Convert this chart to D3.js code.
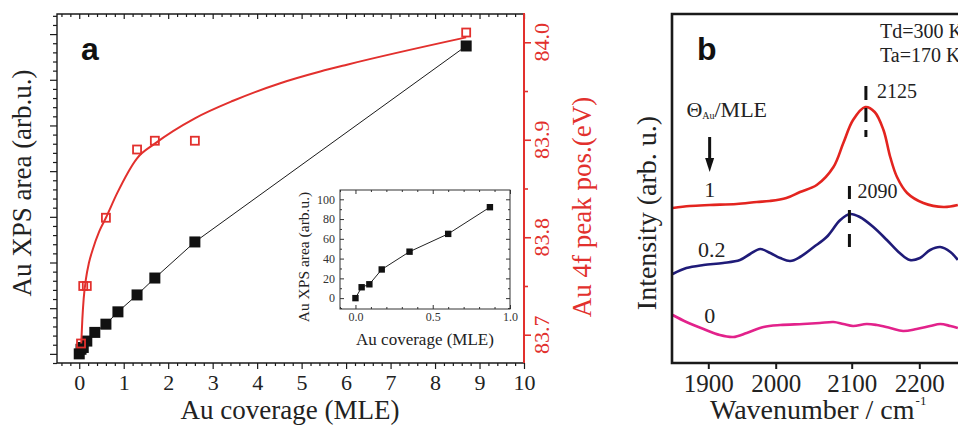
<!DOCTYPE html>
<html>
<head>
<meta charset="utf-8">
<script src="https://cdn.jsdelivr.net/npm/d3@7"></script>
<style>
    body { margin: 0; background: #fff; }
    svg { display: block; font-family: "Liberation Serif", "Times New Roman", serif; }
</style>
</head>
<body>
<svg id="chart" width="958" height="425"></svg>
<script>
    // panel a: Au XPS area (black) and Au 4f peak position (red) vs coverage
    const coverage = [0, 0.04, 0.09, 0.17, 0.35, 0.6, 0.87, 1.3, 1.7, 2.6, 8.7];
    const xpsArea = [0, 10, 14, 28, 47, 65, 92, 129, 166, 245, 674];
    const peakCoverage = [0.04, 0.09, 0.17, 0.6, 1.3, 1.7, 2.6, 8.7];
    const peakPos = [83.691, 83.750, 83.750, 83.820, 83.890, 83.899, 83.899, 84.010];
    // fitted curve
    const fitCoverage = [0.045, 0.07, 0.1, 0.15, 0.22, 0.3, 0.45, 0.6, 0.85, 1.3, 1.7, 2.6, 3.46, 4.52, 5.42, 6.02, 8.7];
    const fitPos = [83.691, 83.716, 83.737, 83.757, 83.774, 83.787, 83.806, 83.820, 83.845, 83.881, 83.896, 83.922, 83.940, 83.958, 83.970, 83.977, 84.005];

    // inset
    const insetCoverage = [0, 0.04, 0.09, 0.17, 0.35, 0.6, 0.87];
    const insetArea = [0, 11, 14, 29, 47, 65, 92];

    const coverageTicks = [0, 1, 2, 3, 4, 5, 6, 7, 8, 9, 10];
    const areaTicks = [0, 100, 200, 300, 400, 500, 600, 700];
    const peakTicks = [83.7, 83.8, 83.9, 84.0];
    const insetCoverageTicks = [0, 0.5, 1.0];
    const insetAreaTicks = [0, 20, 40, 60, 80, 100];

    // panel b: IR spectra
    const wavenumberTicks = [1900, 2000, 2100, 2200];
    const redWn = [1848, 1873, 1902, 1942, 1972, 1991, 2014, 2032, 2054, 2076, 2089, 2102, 2120, 2134, 2147, 2157, 2167, 2182, 2206, 2236, 2257];
    const redInt = [155, 157, 158, 159, 161, 162, 165, 171, 178, 196, 220, 243, 256, 251, 233, 206, 186, 170, 160, 156, 158];
    const blueWn = [1848, 1868, 1893, 1922, 1947, 1962, 1977, 1992, 2006, 2019, 2032, 2050, 2067, 2085, 2098, 2112, 2132, 2152, 2171, 2186, 2201, 2216, 2231, 2246, 2257];
    const blueInt = [89, 95, 98, 100, 103, 109, 114, 110, 105, 102, 106, 116, 126, 143, 149, 146, 136, 123, 110, 103, 105, 113, 116, 111, 103];
    const pinkWn = [1848, 1868, 1893, 1917, 1937, 1957, 1982, 2006, 2036, 2058, 2076, 2089, 2102, 2122, 2137, 2157, 2176, 2196, 2216, 2231, 2246, 2257];
    const pinkInt = [48, 41, 34, 28, 26, 30, 36, 38, 39, 40, 41, 39, 37, 39, 38, 35, 32, 34, 37, 39, 37, 35];
    const coverageLabels = ["1", "0.2", "0"];
    const peakLabels = ["2125", "2090"];
    const peakMarkWn = [2121, 2097];

    const red = "#e2302d";
    const ink = "#1a1a1a";
    const svg = d3.select("#chart");

    const minorOf = (lo, hi, step, major) =>
        d3.range(lo, hi + step / 2, step)
        .filter(v => major.every(m => Math.abs(v - m) > step / 10));

    function tickAxis (parent, axisFn, scale, values, size, transform, color = ink, width = 1.2) {
        parent.append("g")
            .attr("transform", transform)
            .call(axisFn(scale).tickValues(values).tickSize(size).tickFormat(""))
            .call(g => g.select(".domain").remove())
            .call(g => g.selectAll("line").attr("stroke", color).attr("stroke-width", width));
    }

    // ---------- panel a ----------
    const A = {left: 57, right: 524, top: 14, bottom: 363};
    const x = d3.scaleLinear().domain([-0.5, 10]).range([A.left, A.right]);
    const yArea = d3.scaleLinear().domain([-20, 744]).range([A.bottom, A.top]);
    const yPeak = d3.scaleLinear().domain([83.671, 84.029]).range([A.bottom, A.top]);

    const gA = svg.append("g");

    // bottom axis with labels
    gA.append("g")
        .attr("transform", `translate(0,${A.bottom})`)
        .call(d3.axisBottom(x).tickValues(coverageTicks).tickSize(6).tickPadding(5))
        .call(g => g.select(".domain").remove())
        .call(g => g.selectAll("line").attr("stroke", ink).attr("stroke-width", 1.2))
        .call(g => g.selectAll("text")
            .attr("font-family", "Liberation Serif")
            .attr("font-size", 22)
            .attr("fill", "#222"));
    const coverageMinor = minorOf(-0.4, 10, 0.2, coverageTicks);
    tickAxis(gA, d3.axisBottom, x, coverageMinor, 3, `translate(0,${A.bottom})`);
    // top axis, inward ticks
    tickAxis(gA, d3.axisBottom, x, coverageTicks, 5, `translate(0,${A.top})`);
    tickAxis(gA, d3.axisBottom, x, coverageMinor, 3, `translate(0,${A.top})`);
    // left axis, no labels
    tickAxis(gA, d3.axisLeft, yArea, areaTicks, 7, `translate(${A.left},0)`);
    tickAxis(gA, d3.axisLeft, yArea, minorOf(-20, 740, 20, areaTicks), 4, `translate(${A.left},0)`);
    // right axis, red
    tickAxis(gA, d3.axisRight, yPeak, peakTicks, 7, `translate(${A.right},0)`, red, 1.6);
    tickAxis(gA, d3.axisRight, yPeak, [83.75, 83.85, 83.95], 4, `translate(${A.right},0)`, red, 1.6);

    gA.selectAll(".peak-tick")
        .data(peakTicks)
        .join("text")
        .attr("class", "peak-tick")
        .attr("transform", d => `translate(549,${yPeak(d)}) rotate(-90)`)
        .attr("text-anchor", "middle")
        .attr("font-size", 22)
        .attr("fill", red)
        .text(d3.format(".1f"));

    // frame
    gA.append("path")
        .attr("d", `M${A.right},${A.top}H${A.left}V${A.bottom}H${A.right}`)
        .attr("fill", "none")
        .attr("stroke", ink)
        .attr("stroke-width", 1.4);
    gA.append("line")
        .attr("x1", A.right).attr("x2", A.right)
        .attr("y1", A.top - 1).attr("y2", A.bottom)
        .attr("stroke", red)
        .attr("stroke-width", 2);

    // black series
    const areaPts = d3.zip(coverage, xpsArea);
    gA.append("path")
        .attr("d", d3.line().x(d => x(d[0])).y(d => yArea(d[1]))(areaPts))
        .attr("fill", "none")
        .attr("stroke", ink)
        .attr("stroke-width", 1);
    gA.selectAll(".area-pt")
        .data(areaPts)
        .join("rect")
        .attr("class", "area-pt")
        .attr("x", d => x(d[0]) - 5.5)
        .attr("y", d => yArea(d[1]) - 5.5)
        .attr("width", 11)
        .attr("height", 11)
        .attr("fill", "#111");

    // red fit and points
    gA.append("path")
        .attr("d", d3.line()
            .x(d => x(d[0]))
            .y(d => yPeak(d[1]))
            .curve(d3.curveMonotoneX)(d3.zip(fitCoverage, fitPos)))
        .attr("fill", "none")
        .attr("stroke", red)
        .attr("stroke-width", 2);
    gA.selectAll(".peak-pt")
        .data(d3.zip(peakCoverage, peakPos))
        .join("rect")
        .attr("class", "peak-pt")
        .attr("x", d => x(d[0]) - 4)
        .attr("y", d => yPeak(d[1]) - 4)
        .attr("width", 8)
        .attr("height", 8)
        .attr("fill", "none")
        .attr("stroke", red)
        .attr("stroke-width", 1.8);

    // titles
    gA.append("text")
        .attr("x", 290)
        .attr("y", 419)
        .attr("text-anchor", "middle")
        .attr("font-size", 27)
        .attr("fill", "#222")
        .text("Au coverage (MLE)");
    gA.append("text")
        .attr("transform", "translate(31,183) rotate(-90)")
        .attr("text-anchor", "middle")
        .attr("font-size", 27)
        .attr("fill", "#222")
        .text("Au XPS area (arb.u.)");
    gA.append("text")
        .attr("transform", "translate(591,207) rotate(-90)")
        .attr("text-anchor", "middle")
        .attr("font-size", 27)
        .attr("fill", red)
        .text("Au 4f peak pos.(eV)");
    gA.append("text")
        .attr("x", 81)
        .attr("y", 60)
        .attr("font-family", "Liberation Sans, Arial, sans-serif")
        .attr("font-weight", "bold")
        .attr("font-size", 32)
        .attr("fill", "#111")
        .text("a");

    // ---------- inset ----------
    const I = {left: 340, right: 510, top: 190, bottom: 309};
    const xi = d3.scaleLinear().domain([-0.1, 1.0]).range([I.left, I.right]);
    const yi = d3.scaleLinear().domain([-11, 109.4]).range([I.bottom, I.top]);
    const gI = svg.append("g");

    gI.append("rect")
        .attr("x", I.left).attr("y", I.top)
        .attr("width", I.right - I.left).attr("height", I.bottom - I.top)
        .attr("fill", "#fff")
        .attr("stroke", "#333")
        .attr("stroke-width", 1);

    gI.append("g")
        .attr("transform", `translate(0,${I.bottom})`)
        .call(d3.axisBottom(xi).tickValues(insetCoverageTicks).tickSize(-4).tickPadding(3).tickFormat(d3.format(".1f")))
        .call(g => g.select(".domain").remove())
        .call(g => g.selectAll("line").attr("stroke", "#333"))
        .call(g => g.selectAll("text").attr("font-family", "Liberation Serif").attr("font-size", 12).attr("fill", "#333"));
    gI.append("g")
        .attr("transform", `translate(${I.left},0)`)
        .call(d3.axisLeft(yi).tickValues(insetAreaTicks).tickSize(-4).tickPadding(5))
        .call(g => g.select(".domain").remove())
        .call(g => g.selectAll("line").attr("stroke", "#333"))
        .call(g => g.selectAll("text").attr("font-family", "Liberation Serif").attr("font-size", 12).attr("fill", "#333"));
    const insetXMinor = minorOf(-0.1, 1.0, 0.1, insetCoverageTicks);
    const insetYMinor = minorOf(-10, 100, 10, insetAreaTicks);
    tickAxis(gI, d3.axisBottom, xi, insetXMinor, -2, `translate(0,${I.bottom})`, "#333", 1);
    tickAxis(gI, d3.axisTop, xi, insetCoverageTicks, -4, `translate(0,${I.top})`, "#333", 1);
    tickAxis(gI, d3.axisTop, xi, insetXMinor, -2, `translate(0,${I.top})`, "#333", 1);
    tickAxis(gI, d3.axisLeft, yi, insetYMinor, -2, `translate(${I.left},0)`, "#333", 1);
    tickAxis(gI, d3.axisRight, yi, insetAreaTicks, -4, `translate(${I.right},0)`, "#333", 1);
    tickAxis(gI, d3.axisRight, yi, insetYMinor, -2, `translate(${I.right},0)`, "#333", 1);

    const insetPts = d3.zip(insetCoverage, insetArea);
    gI.append("path")
        .attr("d", d3.line().x(d => xi(d[0])).y(d => yi(d[1]))(insetPts))
        .attr("fill", "none")
        .attr("stroke", "#222")
        .attr("stroke-width", 1);
    gI.selectAll(".inset-pt")
        .data(insetPts)
        .join("rect")
        .attr("class", "inset-pt")
        .attr("x", d => xi(d[0]) - 3.2)
        .attr("y", d => yi(d[1]) - 3.2)
        .attr("width", 6.4)
        .attr("height", 6.4)
        .attr("fill", "#111");

    gI.append("text")
        .attr("x", 425)
        .attr("y", 345)
        .attr("text-anchor", "middle")
        .attr("font-size", 17)
        .attr("fill", "#222")
        .text("Au coverage (MLE)");
    gI.append("text")
        .attr("transform", "translate(309,257) rotate(-90)")
        .attr("text-anchor", "middle")
        .attr("font-size", 15.5)
        .attr("fill", "#222")
        .text("Au XPS area (arb.u.)");

    // ---------- panel b ----------
    const B = {left: 672, right: 995, top: 14, bottom: 363};
    // the printed axis is not evenly spaced, so map it piece by piece
    const xb = d3.scaleLinear()
        .domain([1847, 1900, 2000, 2100, 2200, 2300])
        .range([B.left, 708.3, 775.7, 851.7, 919.3, 986.9]);
    const yb = d3.scaleLinear().domain([0, 349]).range([B.bottom, B.top]);
    const gB = svg.append("g");

    const spectra = [
        {wn: redWn, value: redInt, color: "#e3241f"},
        {wn: blueWn, value: blueInt, color: "#1f1b78"},
        {wn: pinkWn, value: pinkInt, color: "#e2228b"},
    ];
    const spectrumLine = d3.line()
        .x(d => xb(d[0]))
        .y(d => yb(d[1]))
        .curve(d3.curveCatmullRom.alpha(0.5));

    gB.selectAll(".spectrum")
        .data(spectra)
        .join("path")
        .attr("class", "spectrum")
        .attr("d", d => spectrumLine(d3.zip(d.wn, d.value)))
        .attr("fill", "none")
        .attr("stroke", d => d.color)
        .attr("stroke-width", 2.6);

    gB.append("g")
        .attr("transform", `translate(0,${B.bottom})`)
        .call(d3.axisBottom(xb).tickValues(wavenumberTicks).tickSize(6).tickPadding(5).tickFormat(d3.format("d")))
        .call(g => g.select(".domain").remove())
        .call(g => g.selectAll("line").attr("stroke", ink).attr("stroke-width", 2))
        .call(g => g.selectAll("text")
            .attr("font-family", "Liberation Serif")
            .attr("font-size", 25)
            .attr("fill", "#222"));

    gB.append("path")
        .attr("d", `M${B.right},${B.top}H${B.left}V${B.bottom}H${B.right}`)
        .attr("fill", "none")
        .attr("stroke", ink)
        .attr("stroke-width", 2.6);

    // peak markers
    const markTop = [277, 177];
    const markBottom = [226, 115];
    gB.selectAll(".peak-mark")
        .data(peakMarkWn)
        .join("line")
        .attr("class", "peak-mark")
        .attr("x1", d => xb(d)).attr("x2", d => xb(d))
        .attr("y1", (d, i) => yb(markTop[i]))
        .attr("y2", (d, i) => yb(markBottom[i]))
        .attr("stroke", "#111")
        .attr("stroke-width", 3)
        .attr("stroke-dasharray", (d, i) => i === 0 ? "14 8" : "13 11");
    gB.selectAll(".peak-label")
        .data(peakLabels)
        .join("text")
        .attr("class", "peak-label")
        .attr("x", (d, i) => xb(peakMarkWn[i]) + (i === 0 ? 11 : 8))
        .attr("y", (d, i) => yb(markTop[i]) + 12)
        .attr("font-size", 20)
        .attr("fill", "#222")
        .text(d => d);

    // coverage labels by each spectrum
    const labelWn = [1902, 1905, 1902];
    const labelInt = [166, 106, 40];
    gB.selectAll(".cov-label")
        .data(coverageLabels)
        .join("text")
        .attr("class", "cov-label")
        .attr("x", (d, i) => xb(labelWn[i]))
        .attr("y", (d, i) => yb(labelInt[i]))
        .attr("text-anchor", "middle")
        .attr("font-size", 22)
        .attr("fill", "#222")
        .text(d => d);

    const theta = gB.append("text")
        .attr("x", xb(1868))
        .attr("y", 117)
        .attr("font-size", 22)
        .attr("fill", "#222");
    theta.append("tspan").text("\u0398");
    theta.append("tspan").attr("font-size", 10).attr("dy", 2).text("Au");
    theta.append("tspan").attr("dy", -2).text("/MLE");

    // arrow
    const ax = xb(1902);
    gB.append("line")
        .attr("x1", ax).attr("x2", ax)
        .attr("y1", 137).attr("y2", 160)
        .attr("stroke", "#111")
        .attr("stroke-width", 3);
    gB.append("path")
        .attr("d", `M${ax - 4.5},158L${ax + 4.5},158L${ax},172Z`)
        .attr("fill", "#111");

    gB.append("text")
        .attr("x", 880).attr("y", 38)
        .attr("font-size", 20).attr("fill", "#222")
        .text("Td=300 K");
    gB.append("text")
        .attr("x", 880).attr("y", 62)
        .attr("font-size", 20).attr("fill", "#222")
        .text("Ta=170 K");
    gB.append("text")
        .attr("x", 697)
        .attr("y", 60)
        .attr("font-family", "Liberation Sans, Arial, sans-serif")
        .attr("font-weight", "bold")
        .attr("font-size", 32)
        .attr("fill", "#111")
        .text("b");

    const xTitle = gB.append("text")
        .attr("x", 710)
        .attr("y", 419)
        .attr("font-size", 28)
        .attr("fill", "#222");
    xTitle.append("tspan").text("Wavenumber / cm");
    xTitle.append("tspan").attr("font-size", 13).attr("dy", -14).attr("dx", 1).text("-1");

    gB.append("text")
        .attr("transform", "translate(656,213) rotate(-90)")
        .attr("text-anchor", "middle")
        .attr("font-size", 28)
        .attr("fill", "#222")
        .text("Intensity (arb. u.)");
</script>
</body>
</html>
